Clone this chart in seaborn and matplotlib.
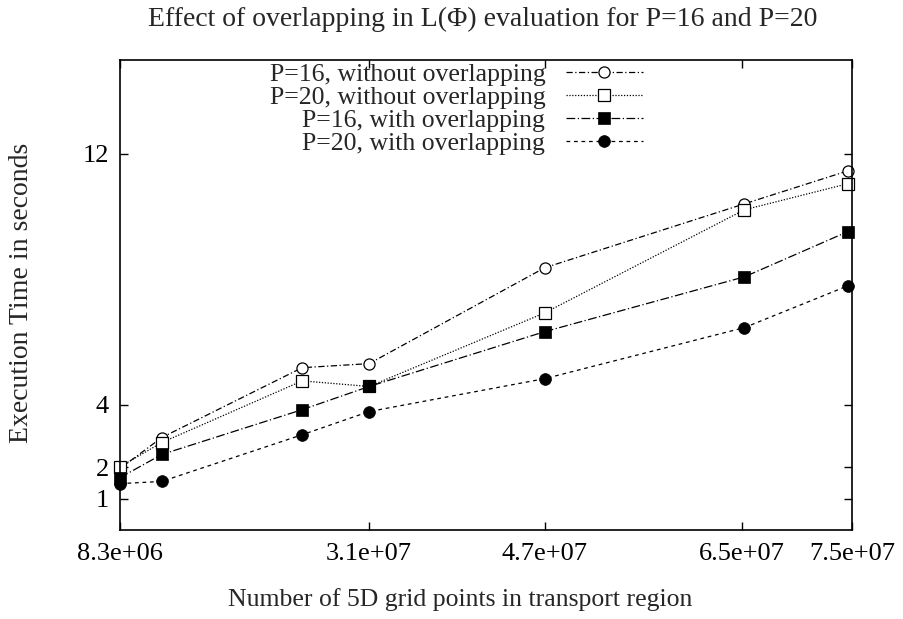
import matplotlib
matplotlib.use("Agg")
import matplotlib.pyplot as plt
import seaborn as sns
import pandas as pd

# ---- data ----
grid_points = [8.3e6, 1.21e7, 2.49e7, 3.1e7, 4.7e7, 6.52e7, 7.46e7]
p16_without = [1.96, 2.95, 5.18, 5.31, 8.37, 10.41, 11.46]
p20_without = [2.02, 2.79, 4.76, 4.58, 6.93, 10.22, 11.05]
p16_with = [1.67, 2.41, 3.84, 4.58, 6.33, 8.08, 9.52]
p20_with = [1.48, 1.55, 3.04, 3.78, 4.83, 6.46, 7.79]

series_labels = ["P=16, without overlapping", "P=20, without overlapping",
                 "P=16, with overlapping", "P=20, with overlapping"]
xtick_values = [8.3e6, 3.1e7, 4.7e7, 6.5e7, 7.5e7]
xtick_labels = ["8.3e+06", "3.1e+07", "4.7e+07", "6.5e+07", "7.5e+07"]
ytick_values = [1, 2, 4, 12]

title = "Effect of overlapping in L(\u03A6) evaluation for P=16 and P=20"
xlabel = "Number of 5D grid points in transport region"
ylabel = "Execution Time in seconds"

# ---- style ----
sns.set_style("ticks")
plt.rcParams["font.family"] = ["Liberation Serif", "DejaVu Serif"]

FS_TITLE = 20
FS_LEG = 18.5
FS_TICK = 19
FS_XLAB = 18.5
FS_YLAB = 20

fig = plt.figure(figsize=(9.04, 6.19), dpi=100)
ax = fig.add_axes([120 / 904, 1 - 530 / 619, (852 - 120) / 904, (530 - 60) / 619])

styles = [
    dict(marker="o", markersize=8, markerfacecolor="white", markeredgecolor="black",
         markeredgewidth=0.9, linestyle=(0, (5, 2, 1, 2))),
    dict(marker="s", markersize=8, markerfacecolor="white", markeredgecolor="black",
         markeredgewidth=0.9, linestyle=(0, (1, 1.3))),
    dict(marker="s", markersize=9, markerfacecolor="black", markeredgecolor="black",
         markeredgewidth=0.5, linestyle=(0, (7, 2, 1, 2))),
    dict(marker="o", markersize=8.5, markerfacecolor="black", markeredgecolor="black",
         markeredgewidth=0.5, linestyle=(0, (3, 3))),
]
all_values = [p16_without, p20_without, p16_with, p20_with]

for vals, lab, st in zip(all_values, series_labels, styles):
    df = pd.DataFrame({"x": grid_points, "y": vals})
    sns.lineplot(data=df, x="x", y="y", ax=ax, color="black", linewidth=0.9,
                 label=lab, sort=False, clip_on=False, **st)

ax.set_xlim(8.3e6, 7.5e7)
ax.set_ylim(0, 15)
ax.set_xticks(xtick_values)
ax.set_xticklabels(xtick_labels)
ax.set_yticks(ytick_values)
ax.set_yticklabels([str(v) for v in ytick_values])
ax.tick_params(direction="in", length=6, width=1, top=True, right=True,
               labelsize=FS_TICK, pad=8, colors="black")
ax.tick_params(axis="x", pad=9)
for s in ax.spines.values():
    s.set_visible(True)
    s.set_linewidth(1.2)
    s.set_color("black")

ax.set_xlabel("")
ax.set_ylabel("")
fig.text(460 / 904, 1 - 600 / 619, xlabel, ha="center", va="center", fontsize=FS_XLAB)
fig.text(22 / 904, 1 - 293 / 619, ylabel, ha="center", va="center",
         rotation=90, fontsize=FS_YLAB)
fig.text(483 / 904, 1 - 19 / 619, title, ha="center", va="center", fontsize=FS_TITLE)

leg = ax.legend(loc="upper right", bbox_to_anchor=(643 / 904, 1 - 63 / 619),
                bbox_transform=fig.transFigure, frameon=False, markerfirst=False,
                fontsize=FS_LEG, handlelength=3.0, labelspacing=0.0,
                handletextpad=0.8, borderpad=0, borderaxespad=0)
for t in leg.get_texts():
    t.set_ha("right")
leg._legend_box.align = "right"

fig.savefig("out.png", dpi=100)
